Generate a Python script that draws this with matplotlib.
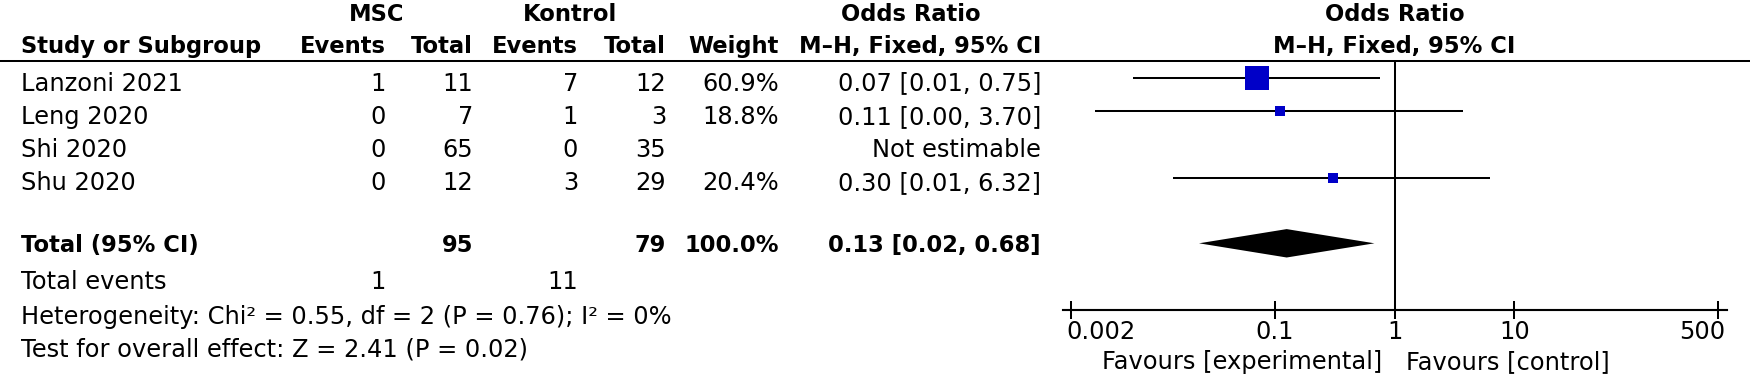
import numpy as np
import matplotlib
matplotlib.use("Agg")
import matplotlib.pyplot as plt
from matplotlib.transforms import ScaledTranslation

# ---------------- data ----------------
studies = ["Lanzoni 2021", "Leng 2020", "Shi 2020", "Shu 2020"]
msc_events = [1, 0, 0, 0]
msc_total = [11, 7, 65, 12]
ctl_events = [7, 1, 0, 3]
ctl_total = [12, 3, 35, 29]
weights = [60.9, 18.8, None, 20.4]
total_weight = 100.0
or_est = [0.0714, 0.111, None, 0.304]
or_lo = [0.0066, 0.0032, None, 0.0141]
or_hi = [0.75, 3.70, None, 6.32]
pooled = (0.126, 0.0234, 0.68)
het_text = "Heterogeneity: Chi\u00b2 = 0.55, df = 2 (P = 0.76); I\u00b2 = 0%"
test_text = "Test for overall effect: Z = 2.41 (P = 0.02)"
tick_vals = [0.002, 0.1, 1, 10, 500]
tick_labels = ["0.002", "0.1", "1", "10", "500"]
fav_left = "Favours [experimental]"
fav_right = "Favours [control]"

# ---------------- layout / style ----------------
W, H, DPI = 1750, 374, 100
FS = 17.4          # regular font (pt)
FSB = 16.3         # bold font (pt)
BLUE = "#0000C8"
LW = 1.45

fig = plt.figure(figsize=(W / DPI, H / DPI), dpi=DPI)
ax = fig.add_axes([0, 0, 1, 1])
ax.set_xlim(0, W)
ax.set_ylim(H, 0)
ax.axis("off")

def base(yc, size):
    # convert a cap-centre y (px) to a baseline y (px)
    return yc + 0.729 * size * DPI / 72 / 2

def txt(x, yc, s, ha="left", bold=False):
    size = FSB if bold else FS
    ax.text(x, base(yc, size), s, ha=ha, va="baseline", fontsize=size,
            fontweight="bold" if bold else "normal", color="black")

# column anchors (px)
X_STUDY = 21
X_ME, X_MT, X_CE, X_CT, X_W, X_OR = 386, 473, 578, 666, 779, 1041
X_MSC_C, X_KON_C, X_ORH_C = 377, 570, 911

Y_H1, Y_H2, Y_LINE = 12.6, 44.7, 61
ROW0, STEP = 81.7, 33.3
Y_TOTAL, Y_TEV, Y_HET, Y_TEST = 243.3, 280.2, 314.7, 347.2
Y_AXIS, Y_FAV = 310, 360.5

# headers
txt(X_MSC_C, Y_H1, "MSC", ha="center", bold=True)
txt(X_KON_C, Y_H1, "Kontrol", ha="center", bold=True)
txt(X_ORH_C, Y_H1, "Odds Ratio", ha="center", bold=True)
txt(X_STUDY, Y_H2, "Study or Subgroup", bold=True)
txt(X_ME, Y_H2, "Events", ha="right", bold=True)
txt(X_MT, Y_H2, "Total", ha="right", bold=True)
txt(X_CE, Y_H2, "Events", ha="right", bold=True)
txt(X_CT, Y_H2, "Total", ha="right", bold=True)
txt(X_W, Y_H2, "Weight", ha="right", bold=True)
txt(X_OR, Y_H2, "M\u2013H, Fixed, 95% CI", ha="right", bold=True)
ax.plot([0, W], [Y_LINE, Y_LINE], color="black", lw=LW, solid_capstyle="butt")

# study rows
for i, name in enumerate(studies):
    y = ROW0 + i * STEP
    txt(X_STUDY, y, name)
    txt(X_ME, y, str(msc_events[i]), ha="right")
    txt(X_MT, y, str(msc_total[i]), ha="right")
    txt(X_CE, y, str(ctl_events[i]), ha="right")
    txt(X_CT, y, str(ctl_total[i]), ha="right")
    if weights[i] is None:
        txt(X_OR, y, "Not estimable", ha="right")
    else:
        txt(X_W, y, f"{weights[i]:.1f}%", ha="right")
        txt(X_OR, y, f"{or_est[i]:.2f} [{or_lo[i]:.2f}, {or_hi[i]:.2f}]", ha="right")

# totals
txt(X_STUDY, Y_TOTAL, "Total (95% CI)", bold=True)
txt(X_MT, Y_TOTAL, str(sum(msc_total)), ha="right", bold=True)
txt(X_CT, Y_TOTAL, str(sum(ctl_total)), ha="right", bold=True)
txt(X_W, Y_TOTAL, f"{total_weight:.1f}%", ha="right", bold=True)
txt(X_OR, Y_TOTAL, f"{pooled[0]:.2f} [{pooled[1]:.2f}, {pooled[2]:.2f}]", ha="right", bold=True)
txt(X_STUDY, Y_TEV, "Total events")
txt(X_ME, Y_TEV, str(sum(msc_events)), ha="right")
txt(X_CE, Y_TEV, str(sum(ctl_events)), ha="right")
txt(X_STUDY, Y_HET, het_text)
txt(X_STUDY, Y_TEST, test_text)

# ---------------- forest panel ----------------
AX_L, AX_R = 1063, 1727
T_L, T_R = 1071, 1718
ppd = (T_R - T_L) / (np.log10(tick_vals[-1]) - np.log10(tick_vals[0]))
fa = fig.add_axes([AX_L / W, (H - Y_AXIS) / H, (AX_R - AX_L) / W, (Y_AXIS - Y_LINE) / H])
fa.set_xscale("log")
fa.set_xlim(10 ** (np.log10(tick_vals[0]) - (T_L - AX_L) / ppd),
            10 ** (np.log10(tick_vals[-1]) + (AX_R - T_R) / ppd))
fa.set_ylim(Y_AXIS, Y_LINE)
fa.patch.set_visible(False)
for s in ["top", "left", "right"]:
    fa.spines[s].set_visible(False)
fa.spines["bottom"].set_linewidth(LW * 1.05)
fa.set_yticks([])
fa.set_xticks(tick_vals)
fa.set_xticklabels(tick_labels)
fa.xaxis.set_minor_locator(matplotlib.ticker.NullLocator())
fa.tick_params(axis="x", direction="inout", length=12.7, width=LW, labelsize=FS, pad=1.0)
labs = fa.get_xticklabels()
labs[0].set_ha("left")
labs[0].set_transform(labs[0].get_transform() + ScaledTranslation(-5 / DPI, 0, fig.dpi_scale_trans))
labs[-1].set_ha("right")
labs[-1].set_transform(labs[-1].get_transform() + ScaledTranslation(7 / DPI, 0, fig.dpi_scale_trans))

fa.axvline(1, color="black", lw=LW)

# box sizes from weights
for i in range(len(studies)):
    if weights[i] is None:
        continue
    y = ROW0 + i * STEP - 4
    fa.plot([or_lo[i], or_hi[i]], [y, y], color="black", lw=LW, solid_capstyle="butt", zorder=2)
    side_px = 1.32 * weights[i] ** 0.7
    fa.plot([or_est[i]], [y], marker="s", markersize=side_px * 72 / DPI,
            color=BLUE, markeredgewidth=0, linestyle="none", zorder=3)

# diamond
dh = 14.2
fa.fill([pooled[1], pooled[0], pooled[2], pooled[0]],
        [Y_TOTAL, Y_TOTAL - dh, Y_TOTAL, Y_TOTAL + dh], color="black", lw=0, zorder=3)

# favours labels (positioned relative to OR = 1 line)
x1 = T_L + (0 - np.log10(tick_vals[0])) * ppd
ax.text(x1 - 12, base(Y_FAV, FS), fav_left, ha="right", va="baseline", fontsize=FS)
ax.text(x1 + 12, base(Y_FAV, FS), fav_right, ha="left", va="baseline", fontsize=FS)

# right header
txt(x1, Y_H1, "Odds Ratio", ha="center", bold=True)
txt(x1, Y_H2, "M\u2013H, Fixed, 95% CI", ha="center", bold=True)

fig.savefig("out.png", dpi=DPI)
